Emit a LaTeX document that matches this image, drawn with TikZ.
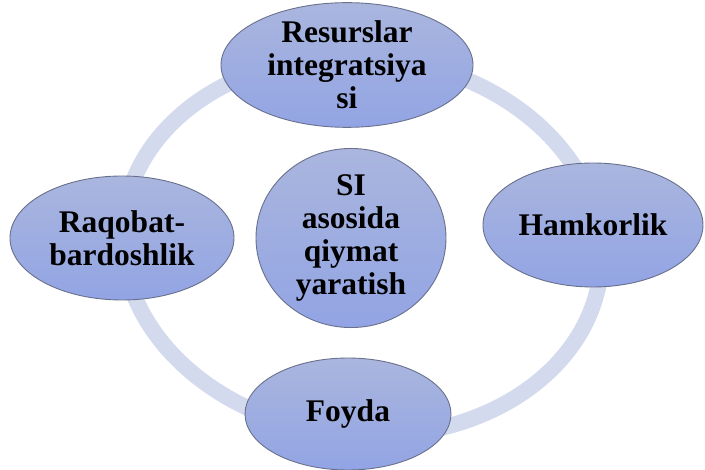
\documentclass[tikz,border=0pt]{standalone}
\usepackage{fontspec}
\setmainfont{Liberation Serif}
\usetikzlibrary{shapes.geometric}
\definecolor{ringc}{RGB}{212,218,238}
\definecolor{filltop}{RGB}{170,182,222}
\definecolor{fillbot}{RGB}{146,164,228}
\definecolor{edgec}{RGB}{105,112,140}
\tikzset{
  bubble/.style={ellipse, draw=edgec, line width=0.9pt, top color=filltop, bottom color=fillbot,
    inner sep=0pt, align=center, text=black,
    font=\fontsize{31.5}{33}\selectfont\bfseries},
}
\begin{document}
\begin{tikzpicture}[x=1pt,y=-1pt]
\useasboundingbox (0,0) rectangle (705,470);
\coordinate (rc) at (362,246);
\draw[ringc, line width=16pt, rotate around={-6:(rc)}] (rc) ellipse [x radius=240, y radius=189];
\node[bubble, minimum width=252pt, minimum height=116pt] (top) at (347,65) {Resurslar\\integratsiya\\si};
\node[bubble, minimum width=220pt, minimum height=124pt] (right) at (593,225) {Hamkorlik};
\node[bubble, minimum width=206pt, minimum height=112pt] (bottom) at (348,414) {Foyda};
\node[bubble, minimum width=224pt, minimum height=124pt] (left) at (122,238) {Raqobat-\\bardoshlik};
\node[bubble, minimum width=190pt, minimum height=150pt] (center) at (351,238) {SI\\asosida\\qiymat\\yaratish};
\end{tikzpicture}
\end{document}
